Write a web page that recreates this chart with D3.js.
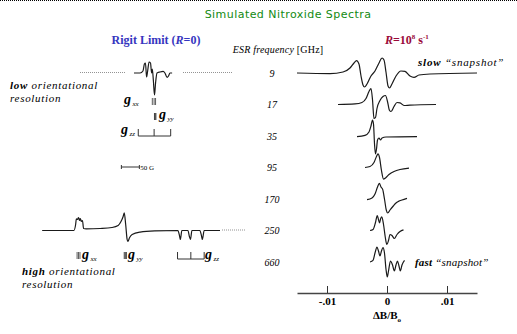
<!DOCTYPE html>
<html><head><meta charset="utf-8">
<script src="https://cdn.jsdelivr.net/npm/d3@7"></script>
<style>
html,body{margin:0;padding:0;background:#fff;}
svg{display:block;}
svg text{font-family:"Liberation Serif","Times New Roman",Times,serif;}
svg text.sans{font-family:"DejaVu Sans",sans-serif;}
</style></head><body>
<svg id="chart" width="517" height="334"></svg>
<script>
// ESR frequencies (GHz), one row per frequency
const frequencies = ["9", "17", "35", "95", "170", "250", "660"];
const xTickValues = [-0.01, 0, 0.01];
const xTickLabels = ["-.01", "0", ".01"];

// R = 1e8 s^-1 spectra: [ΔB/B0, first-derivative amplitude]
const spec9 = [[-0.0150,0],[-0.0095,-0.03],[-0.00733,0.05],[-0.00617,0.25],[-0.0055,0.5],[-0.00508,0.62],[-0.00467,0.45],[-0.00433,-0.15],[-0.0040,-0.6],[-0.00375,-0.7],[-0.00333,-0.55],[-0.00267,-0.15],[-0.0020,0.1],[-0.00133,0.5],[-0.00083,0.75],[-0.0005,0.65],[-0.00017,0.05],[0.00017,-0.65],[0.00042,-0.75],[0.00083,-0.55],[0.0015,-0.15],[0.00233,0.1],[0.0030,0.08],[0.00383,-0.15],[0.0045,-0.22],[0.00533,-0.1],[0.00717,-0.05],[0.0150,0]];
const spec17 = [[-0.00817,0],[-0.00533,0.03],[-0.00417,0.1],[-0.0035,0.3],[-0.0030,0.65],[-0.00267,0.8],[-0.00242,0.25],[-0.00217,-0.7],[-0.00192,-0.65],[-0.00167,-0.2],[-0.00117,0.2],[-0.00067,0.4],[-0.00025,0.45],[0.00008,0.15],[0.00042,-0.3],[0.00067,-0.35],[0.00117,-0.1],[0.00167,0.1],[0.00217,0.08],[0.00283,-0.05],[0.00383,-0.03],[0.00817,0]];
const spec35 = [[-0.0050,-0.03],[-0.00367,0.03],[-0.0030,0.2],[-0.00267,0.5],[-0.00242,0.8],[-0.00225,0.6],[-0.00208,-0.4],[-0.00192,-0.9],[-0.00175,-0.65],[-0.00158,-0.2],[-0.00133,-0.1],[-0.00108,-0.2],[-0.00083,-0.1],[-0.00017,-0.05],[0.0050,-0.03]];
const spec95 = [[-0.00367,0],[-0.00283,0.05],[-0.00217,0.25],[-0.00175,0.55],[-0.0015,0.68],[-0.00125,0.5],[-0.00092,-0.15],[-0.00058,-0.58],[-0.00025,-0.52],[0.00033,-0.35],[0.00117,-0.2],[0.00217,-0.1],[0.00367,-0.03]];
const spec170 = [[-0.00333,-0.03],[-0.0025,0.05],[-0.0020,0.25],[-0.00158,0.6],[-0.00128,0.78],[-0.0010,0.6],[-0.00072,0.48],[-0.00042,0],[-0.00012,-0.55],[0.00013,-0.7],[0.0005,-0.55],[0.00105,-0.35],[0.0015,-0.2],[0.00192,-0.12],[0.0025,-0.05],[0.00333,0.03]];
const spec250 = [[-0.00283,0],[-0.00233,0.05],[-0.00192,0.4],[-0.00162,0.75],[-0.00142,0.55],[-0.00125,0.38],[-0.00105,0.6],[-0.00087,0.68],[-0.00058,0.3],[-0.00028,-0.35],[-0.00003,-0.7],[0.00025,-0.5],[0.0005,-0.2],[0.00083,-0.25],[0.00122,-0.4],[0.00167,-0.2],[0.00217,-0.05],[0.00275,0.03]];
const spec660 = [[-0.00283,0],[-0.00233,0.08],[-0.0020,0.45],[-0.00167,0.75],[-0.00142,0.55],[-0.00117,0.3],[-0.00092,0.55],[-0.00067,0.72],[-0.00042,0.45],[-0.00017,-0.35],[0.00005,-0.75],[0.00025,-0.45],[0.00058,0.05],[0.00092,-0.15],[0.00122,-0.45],[0.0015,-0.15],[0.00175,0.05],[0.0020,-0.2],[0.00222,-0.45],[0.0025,-0.15],[0.00292,0.08]];
const fastSpectra = [spec9, spec17, spec35, spec95, spec170, spec250, spec660];

// rigid-limit spectra: [field position (G), amplitude]
const rigid9 = [[261,0],[278,0],[286,0.1],[290,0.45],[293,0.5],[296,-0.2],[299,0.1],[303,0.55],[307,0.5],[310,0],[312,0.2],[315,-0.4],[318,-1.1],[321,-0.5],[325,0],[333,0.05],[342,0.08],[347,0],[353,-0.22],[357,-0.15],[361,0],[367,0]];
const rigid250 = [[6,0],[94,0],[99,0.3],[101,0.58],[104,0.55],[107,0.65],[110,0.5],[112,0.6],[115,0.45],[118,0.5],[121,0.1],[128,0.08],[167,0.1],[200,0.15],[217,0.25],[225,0.45],[231,0.7],[234,0.88],[238,0.3],[242,-0.45],[244,-0.55],[249,-0.35],[256,-0.2],[278,-0.08],[319,-0.02],[383,0],[388,-0.3],[390,-0.45],[394,0],[411,0],[415,-0.3],[418,-0.45],[422,0],[444,0],[449,-0.3],[451,-0.45],[456,0],[500,0]];

// hyperfine line positions (G) of the principal g components
const gxx9 = [312, 317, 321];
const gyy9 = [318, 320, 322];
const gzz9 = [273, 317, 363];
const gxx250 = [103, 107, 111];
const gyy250 = [234, 237, 240];
const gzz250 = [382, 419, 456];
const scaleBarGauss = [226, 276];

const svg = d3.select("#chart");

const xFast = d3.scaleLinear().domain([-0.015, 0.015]).range([297, 477]);
const xField = d3.scaleLinear().domain([0, 500]).range([40, 220]);
const amp = d3.scaleLinear().domain([-1, 1]).range([20, -20]);
const row = d3.scalePoint().domain(frequencies).range([73, 262]);

// dotted rule along the top
svg.append("line").attr("x1", 0).attr("x2", 517).attr("y1", 0.5).attr("y2", 0.5)
  .attr("stroke", "#000").attr("stroke-dasharray", "1,1");

svg.append("text").attr("class", "sans").attr("x", 288).attr("y", 18).attr("text-anchor", "middle")
  .attr("font-size", 11).attr("fill", "#128a12").attr("letter-spacing", 0.45).text("Simulated Nitroxide Spectra");

const rl = svg.append("text").attr("x", 156).attr("y", 44).attr("text-anchor", "middle")
  .attr("font-size", 12).attr("font-weight", "bold").attr("fill", "#3636c0");
rl.append("tspan").text("Rigit Limit (");
rl.append("tspan").attr("font-style", "italic").text("R");
rl.append("tspan").text("=0)");

const rf = svg.append("text").attr("x", 385).attr("y", 44)
  .attr("font-size", 12).attr("font-weight", "bold").attr("fill", "#9a0a3a");
rf.append("tspan").attr("font-style", "italic").text("R");
rf.append("tspan").text("=10");
rf.append("tspan").attr("font-size", 7).attr("dy", -5).text("8");
rf.append("tspan").attr("dy", 5).text(" s");
rf.append("tspan").attr("font-size", 7).attr("dy", -5).text("-1");

const ef = svg.append("text").attr("x", 278).attr("y", 53).attr("text-anchor", "middle")
  .attr("font-size", 10).attr("letter-spacing", 0.2).attr("fill", "#000");
ef.append("tspan").attr("font-style", "italic").text("ESR frequency ");
ef.append("tspan").text("[GHz]");

// frequency labels
svg.append("g").selectAll("text").data(frequencies).join("text")
  .attr("x", 272).attr("y", d => row(d) + 3.5).attr("text-anchor", "middle")
  .attr("font-style", "italic").attr("font-size", 10)
  .text(d => d);

// guide dots joining the rigid-limit rows to their frequency
const dots = [[80, 126, "9"], [183, 232, "9"], [222, 245, "250"]];
svg.append("g").selectAll("line").data(dots).join("line")
  .attr("x1", d => d[0]).attr("x2", d => d[1])
  .attr("y1", d => row(d[2]) - 0.5).attr("y2", d => row(d[2]) - 0.5)
  .attr("stroke", "#777").attr("stroke-width", 0.8).attr("stroke-dasharray", "1,1");

// fast-motion spectra
const fastLine = d3.line().x(d => xFast(d[0])).y(d => amp(d[1])).curve(d3.curveMonotoneX);
svg.append("g").selectAll("path").data(fastSpectra).join("path")
  .attr("transform", (d, i) => `translate(0,${row(frequencies[i])})`)
  .attr("d", fastLine).attr("fill", "none").attr("stroke", "#1a1a1a").attr("stroke-width", 1.2);

// rigid-limit spectra
const fieldLine = d3.line().x(d => xField(d[0])).y(d => amp(d[1])).curve(d3.curveMonotoneX);
[[rigid9, "9"], [rigid250, "250"]].forEach(([s, f]) => {
  svg.append("path").datum(s).attr("transform", `translate(0,${row(f)})`)
    .attr("d", fieldLine).attr("fill", "none").attr("stroke", "#1a1a1a").attr("stroke-width", 1.2);
});

// axis
const axis = d3.axisBottom(xFast).tickValues(xTickValues)
  .tickFormat((d, i) => xTickLabels[i]).tickSizeInner(-7).tickSizeOuter(0).tickPadding(4);
const ax = svg.append("g").attr("transform", "translate(0,293)").call(axis);
ax.attr("font-family", null);
ax.select(".domain").attr("stroke", "#444").attr("stroke-width", 1.5);
ax.selectAll(".tick line").attr("stroke", "#333").attr("stroke-width", 1);
ax.selectAll(".tick text").attr("font-size", 11).attr("font-weight", "bold").attr("fill", "#000");
const xl = svg.append("text").attr("x", 387).attr("y", 319).attr("text-anchor", "middle")
  .attr("font-size", 11).attr("font-weight", "bold");
xl.append("tspan").text("ΔB/B");
xl.append("tspan").attr("font-size", 7).attr("dy", 3).text("o");

// g-tensor markers
function ticks(xs, y0, y1, w) {
  svg.append("g").selectAll("line").data(xs).join("line")
    .attr("x1", d => xField(d)).attr("x2", d => xField(d)).attr("y1", y0).attr("y2", y1)
    .attr("stroke", "#333").attr("stroke-width", w);
}
function bracket(xs, yBase, yTop) {
  ticks(xs, yBase, yTop, 1);
  svg.append("line").attr("x1", xField(xs[0])).attr("x2", xField(xs[xs.length - 1]))
    .attr("y1", yBase).attr("y2", yBase).attr("stroke", "#333").attr("stroke-width", 1);
}
function gLabel(x, y, sub) {
  const t = svg.append("text").attr("x", x).attr("y", y);
  t.append("tspan").attr("font-size", 14).attr("font-weight", "bold").attr("font-style", "italic").text("g");
  t.append("tspan").attr("font-size", 7).attr("font-style", "italic").attr("dx", 1.5).attr("dy", 2).text(sub);
}
ticks(gxx9, 98, 105, 0.8);
gLabel(124, 104, "xx");
ticks(gyy9, 113, 120, 0.9);
gLabel(159, 119, "yy");
bracket(gzz9, 136, 129);
gLabel(121, 134, "zz");

ticks(gxx250, 252, 259, 0.8);
gLabel(82, 259, "xx");
ticks(gyy250, 252, 259, 0.9);
gLabel(128, 259, "yy");
bracket(gzz250, 259, 252);
gLabel(205, 259, "zz");

// 50 G scale bar
const sb = svg.append("g").attr("stroke", "#333").attr("stroke-width", 1);
sb.append("line").attr("x1", xField(scaleBarGauss[0])).attr("x2", xField(scaleBarGauss[1])).attr("y1", 167).attr("y2", 167);
sb.selectAll("line.e").data(scaleBarGauss).join("line").attr("class", "e")
  .attr("x1", d => xField(d)).attr("x2", d => xField(d)).attr("y1", 165).attr("y2", 169);
svg.append("text").attr("x", xField(scaleBarGauss[1]) + 1).attr("y", 169.5)
  .attr("font-size", 7).text("50 G");

// side notes
function note(x, y, bold, rest, ls) {
  const t = svg.append("text").attr("x", x).attr("y", y).attr("font-size", 11)
    .attr("letter-spacing", ls).attr("font-style", "italic");
  if (bold) t.append("tspan").attr("font-weight", "bold").text(bold + " ");
  t.append("tspan").text(rest);
}
note(10, 89, "low", "orientational", 0.7);
note(10, 102, "", "resolution", 0.7);
note(22, 275, "high", "orientational", 0.7);
note(22, 288, "", "resolution", 0.7);
note(418, 66, "slow", "“snapshot”", 0.8);
note(415, 266, "fast", "“snapshot”", 0.2);
</script>
</body></html>
